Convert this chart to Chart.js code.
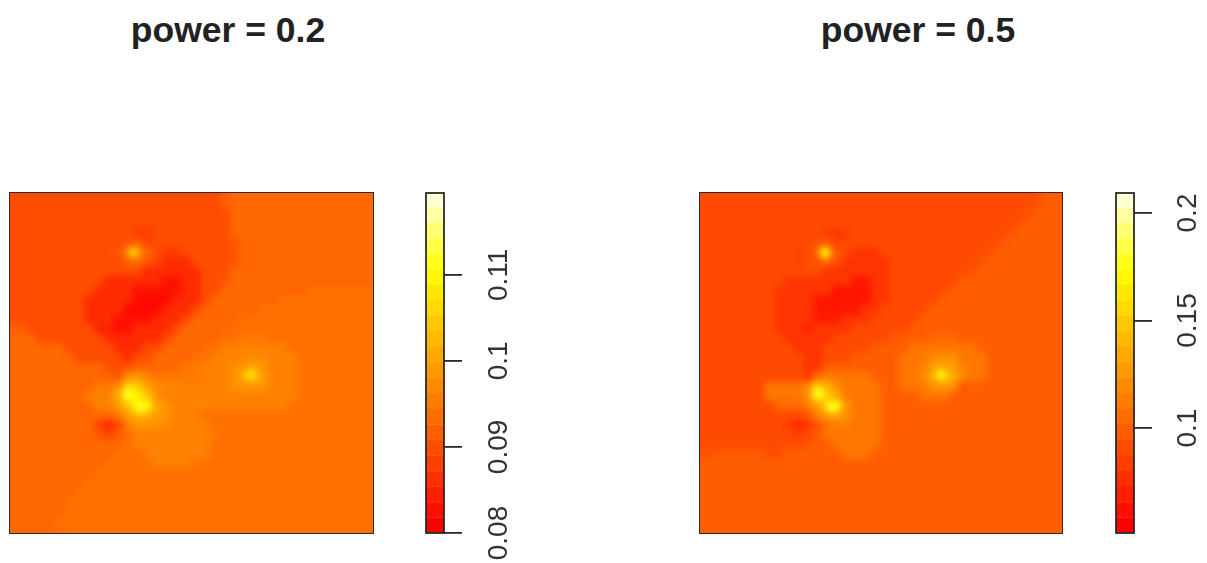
<!DOCTYPE html>
<html>
<head>
<meta charset="utf-8">
<script src="https://cdn.jsdelivr.net/npm/chart.js@4"></script>
<style>
html, body { margin: 0; background: #fff; }
body { position: relative; width: 1207px; height: 563px; overflow: hidden; font-family: "Liberation Sans", sans-serif; }
.title { position: absolute; top: 9px; width: 400px; text-align: center; font-weight: bold; font-size: 35.5px; line-height: 42px; color: #222; }
.panel { position: absolute; top: 193px; height: 340px; overflow: hidden; background: rgb(255, 95, 0); outline: 1.8px solid #2a2a2a; }
.panel canvas { filter: blur(3.2px); display: block; margin: -20px 0 0 -20px; }
.bar { position: absolute; top: 0; filter: blur(0.4px); }
</style>
</head>
<body>
<div class="title" style="left:28px">power = 0.2</div>
<div class="title" style="left:718px">power = 0.5</div>
<div class="panel" style="left:10px;width:363px"><canvas id="heatLow" width="403" height="380"></canvas></div>
<div class="panel" style="left:700px;width:362px"><canvas id="heatHigh" width="402" height="380"></canvas></div>
<canvas class="bar" id="barLow" width="110" height="563" style="left:410px"></canvas>
<canvas class="bar" id="barHigh" width="102" height="563" style="left:1105px"></canvas>
<script>
// cell values in thousandths, rows top to bottom
const lowRows = [
[89,89,89,89,89,89,89,89,89,89,89,89,89,89,89,89,89,89,89,89,89,91,92,92,92,92,92,92,92,92,92,92,92,92,92,92],
[89,89,89,89,89,89,89,89,89,89,89,89,89,89,89,89,89,89,89,89,89,89,92,92,92,92,92,92,92,92,92,92,92,92,92,92],
[89,89,89,89,89,89,89,89,89,89,89,89,89,89,89,89,89,89,89,89,89,89,92,92,92,92,92,92,92,92,92,92,92,92,92,92],
[89,89,89,89,89,89,89,89,89,89,89,89,87,87,89,89,89,89,89,89,89,89,92,92,92,92,92,92,92,92,92,92,92,92,92,92],
[89,89,89,89,89,89,89,89,89,89,89,90,91,88,89,89,89,89,89,89,89,89,90,92,92,92,92,92,92,92,92,92,92,92,92,92],
[89,89,89,89,89,89,89,89,89,89,90,93,97,92,89,87,87,89,89,89,89,89,90,92,92,92,92,92,92,92,92,92,92,92,92,92],
[89,89,89,89,89,89,89,89,89,89,89,91,92,90,88,85,85,85,89,89,89,89,90,92,92,92,92,92,92,92,92,92,92,92,92,92],
[89,89,89,89,89,89,89,89,89,89,89,89,89,85,85,85,85,85,85,89,89,89,92,92,92,92,92,92,92,92,92,92,92,92,92,92],
[89,89,89,89,89,89,89,89,89,85,85,85,85,85,85,82,82,85,85,89,89,90,92,92,92,92,92,92,92,92,92,92,92,92,92,92],
[89,89,89,89,89,89,89,89,85,85,85,85,82,82,82,82,82,85,85,89,89,92,92,92,92,92,92,92,92,92,93,93,93,93,93,93],
[89,89,89,89,89,89,89,85,85,85,85,85,81,81,81,81,85,85,85,89,92,92,92,92,92,92,92,93,93,93,93,93,93,93,93,93],
[89,89,89,89,89,89,89,85,85,85,85,81,81,81,81,85,85,85,89,92,92,92,92,92,92,93,93,93,93,93,93,93,93,93,93,93],
[89,89,89,89,89,89,89,85,85,85,82,82,82,82,85,85,85,89,92,92,92,92,92,93,93,93,93,93,93,93,93,93,93,93,93,93],
[91,89,89,89,89,89,89,89,84,84,82,82,85,85,85,85,89,92,92,92,92,92,93,93,93,93,93,93,93,93,93,93,93,93,93,93],
[92,92,89,89,89,89,89,89,89,85,85,85,85,85,85,89,92,92,92,92,92,93,93,94,94,94,93,93,93,93,93,93,93,93,93,93],
[92,92,92,92,92,89,89,89,89,89,85,85,85,89,89,92,92,92,92,93,93,95,95,95,95,95,95,95,93,93,93,93,93,93,93,93],
[92,92,92,92,92,92,89,89,89,89,89,85,89,89,92,92,92,92,93,93,95,95,95,96,96,96,95,95,95,93,93,93,93,93,93,93],
[92,92,92,92,92,92,92,92,92,89,89,90,92,92,92,92,92,94,94,95,95,95,97,97,99,97,95,95,95,93,93,93,93,93,93,93],
[92,92,92,92,92,92,92,92,92,92,90,97,98,95,94,94,94,94,94,95,95,95,97,100,103,98,95,95,95,93,93,93,93,93,93,93],
[92,92,92,92,92,92,92,92,94,94,97,104,104,99,96,95,95,95,95,95,95,95,97,97,97,97,95,95,95,93,93,93,93,93,93,93],
[92,92,92,92,92,92,92,95,95,95,100,110,108,103,97,95,95,95,95,95,95,95,95,95,95,95,95,95,95,93,93,93,93,93,93,93],
[92,92,92,92,92,92,92,92,95,95,98,103,110,108,99,97,95,95,95,95,95,95,95,95,95,95,95,95,93,93,93,93,93,93,93,93],
[92,92,92,92,92,92,92,92,92,92,94,98,101,100,98,97,95,95,95,93,93,93,93,93,93,93,93,93,93,93,93,93,93,93,93,93],
[92,92,92,92,92,92,92,92,88,85,88,95,97,97,97,96,95,95,95,95,93,93,93,93,93,93,93,93,93,93,93,93,93,93,93,93],
[92,92,92,92,92,92,92,92,90,88,91,93,95,95,95,95,95,95,95,95,94,93,93,93,93,93,93,93,93,93,93,93,93,93,93,93],
[92,92,92,92,92,92,92,92,92,92,92,93,95,95,95,95,95,95,95,95,93,93,93,93,93,93,93,93,93,93,93,93,93,93,93,93],
[92,92,92,92,92,92,92,92,92,92,93,93,93,95,95,95,95,95,95,95,93,93,93,93,93,93,93,93,93,93,93,93,93,93,93,93],
[92,92,92,92,92,92,92,92,92,93,93,93,93,93,95,95,95,95,94,93,93,93,93,93,93,93,93,93,93,93,93,93,93,93,93,93],
[92,92,92,92,92,92,92,92,93,93,93,93,93,93,93,93,93,93,93,93,93,93,93,93,93,93,93,93,93,93,93,93,93,93,93,93],
[92,92,92,92,92,92,92,93,93,93,93,93,93,93,93,93,93,93,93,93,93,93,93,93,93,93,93,93,93,93,93,93,93,93,93,93],
[92,92,92,92,92,92,93,93,93,93,93,93,93,93,93,93,93,93,93,93,93,93,93,93,93,93,93,93,93,93,93,93,93,93,93,93],
[92,92,92,92,92,93,93,93,93,93,93,93,93,93,93,93,93,93,93,93,93,93,93,93,93,93,93,93,93,93,93,93,93,93,93,93],
[92,92,92,92,92,93,93,93,93,93,93,93,93,93,93,93,93,93,93,93,93,93,93,93,93,93,93,93,93,93,93,93,93,93,93,93],
[92,92,92,92,93,93,93,93,93,93,93,93,93,93,93,93,93,93,93,93,93,93,93,93,93,93,93,93,93,93,93,93,93,93,93,93]
];
const highRows = [
[86,86,86,86,86,86,86,86,86,86,86,86,86,86,86,86,86,86,86,86,86,86,86,86,86,86,86,86,86,86,86,86,86,86,90,95],
[86,86,86,86,86,86,86,86,86,86,86,86,86,86,86,86,86,86,86,86,86,86,86,86,86,86,86,86,86,86,86,86,86,90,95,95],
[86,86,86,86,86,86,86,86,86,86,86,86,86,86,86,86,86,86,86,86,86,86,86,86,86,86,86,86,86,86,86,86,90,95,95,95],
[86,86,86,86,86,86,86,86,86,86,86,86,80,76,80,86,86,86,86,86,86,86,86,86,86,86,86,86,86,86,86,90,95,95,95,95],
[86,86,86,86,86,86,86,86,86,86,86,88,92,82,84,86,86,86,86,86,86,86,86,86,86,86,86,86,86,86,90,95,95,95,95,95],
[86,86,86,86,86,86,86,86,86,80,86,95,115,92,86,76,76,76,86,86,86,86,86,86,86,86,86,86,86,90,95,95,95,95,95,95],
[86,86,86,86,86,86,86,86,86,82,86,90,98,88,76,76,76,76,76,86,86,86,86,86,86,86,86,86,90,95,95,95,95,95,95,95],
[86,86,86,86,86,86,86,86,86,86,86,86,76,76,76,76,76,76,76,86,86,86,86,86,86,86,86,90,95,95,95,95,95,95,95,95],
[86,86,86,86,86,86,86,86,76,76,76,76,76,76,76,62,62,76,76,86,86,86,86,86,86,86,95,95,95,95,95,95,95,95,95,95],
[86,86,86,86,86,86,86,76,76,76,76,76,76,60,60,60,60,76,76,86,86,86,86,86,86,95,95,95,95,95,95,95,95,95,95,95],
[86,86,86,86,86,86,86,76,76,76,76,62,62,62,62,62,62,76,76,86,86,86,86,86,95,95,95,95,95,95,95,95,95,95,95,95],
[86,86,86,86,86,86,86,76,76,76,76,62,62,62,62,62,76,76,86,86,86,86,86,95,95,95,95,95,95,95,95,95,95,95,95,95],
[86,86,86,86,86,86,86,76,76,76,76,64,64,64,76,76,76,86,86,86,86,86,95,95,95,95,95,95,95,95,95,95,95,95,95,95],
[86,86,86,86,86,86,86,76,76,76,68,76,76,76,76,86,86,86,86,86,86,95,95,95,95,95,95,95,95,95,95,95,95,95,95,95],
[86,86,86,86,86,86,86,86,76,76,76,76,76,86,86,86,86,86,86,95,95,95,95,100,100,100,95,95,95,95,95,95,95,95,95,95],
[86,86,86,86,86,86,86,86,86,76,76,76,86,86,86,86,86,95,95,95,95,106,106,106,106,106,106,106,95,95,95,95,95,95,95,95],
[86,86,86,86,86,86,86,86,86,86,76,76,86,86,86,95,95,95,95,95,106,106,106,118,118,118,106,106,106,95,95,95,95,95,95,95],
[86,86,86,86,86,86,86,86,86,86,76,76,95,95,95,95,95,95,95,95,106,106,112,125,125,125,112,106,106,95,95,95,95,95,95,95],
[86,86,86,86,86,86,86,86,86,86,78,105,110,106,106,106,106,95,95,95,106,106,118,130,150,130,115,106,106,95,95,95,95,95,95,95],
[86,86,86,86,86,86,106,106,106,106,118,145,135,118,106,106,106,106,95,95,106,106,106,120,120,120,90,95,95,95,95,95,95,95,95,95],
[86,86,86,86,86,86,106,106,106,106,118,160,145,130,108,106,106,106,95,95,95,95,106,106,106,95,95,95,95,95,95,95,95,95,95,95],
[86,86,86,86,86,86,86,100,100,100,110,125,150,165,120,106,106,106,95,95,95,95,95,95,95,95,95,95,95,95,95,95,95,95,95,95],
[86,86,86,86,86,86,86,86,86,86,90,112,120,125,118,106,106,106,95,95,95,95,95,95,95,95,95,95,95,95,95,95,95,95,95,95],
[86,86,86,86,86,86,86,86,80,70,78,90,106,110,110,106,106,106,95,95,95,95,95,95,95,95,95,95,95,95,95,95,95,95,95,95],
[86,86,86,86,86,86,86,86,86,80,86,92,106,106,106,106,106,106,95,95,95,95,95,95,95,95,95,95,95,95,95,95,95,95,95,95],
[86,86,86,86,86,86,86,86,86,86,90,95,95,106,106,106,106,106,95,95,95,95,95,95,95,95,95,95,95,95,95,95,95,95,95,95],
[90,93,93,93,93,93,88,88,95,95,95,95,95,95,106,106,106,95,95,95,95,95,95,95,95,95,95,95,95,95,95,95,95,95,95,95],
[95,95,95,95,95,95,95,95,95,95,95,95,95,95,95,95,95,95,95,95,95,95,95,95,95,95,95,95,95,95,95,95,95,95,95,95],
[95,95,95,95,95,95,95,95,95,95,95,95,95,95,95,95,95,95,95,95,95,95,95,95,95,95,95,95,95,95,95,95,95,95,95,95],
[95,95,95,95,95,95,95,95,95,95,95,95,95,95,95,95,95,95,95,95,95,95,95,95,95,95,95,95,95,95,95,95,95,95,95,95],
[95,95,95,95,95,95,95,95,95,95,95,95,95,95,95,95,95,95,95,95,95,95,95,95,95,95,95,95,95,95,95,95,95,95,95,95],
[95,95,95,95,95,95,95,95,95,95,95,95,95,95,95,95,95,95,95,95,95,95,95,95,95,95,95,95,95,95,95,95,95,95,95,95],
[95,95,95,95,95,95,95,95,95,95,95,95,95,95,95,95,95,95,95,95,95,95,95,95,95,95,95,95,95,95,95,95,95,95,95,95],
[95,95,95,95,95,95,95,95,95,95,95,95,95,95,95,95,95,95,95,95,95,95,95,95,95,95,95,95,95,95,95,95,95,95,95,95]
];

// sharp peaks smaller than a cell: column, row, value
const lowHalo = [[12.0, 5.5, 99], [24.1, 18.2, 103], [11.5, 20.2, 109], [12.9, 21.6, 109]];
const lowCore = [[12.0, 5.5, 106], [24.1, 18.2, 108], [11.5, 20.2, 111], [12.9, 21.6, 111]];
const highHalo = [[12.2, 5.5, 140], [24.2, 18.2, 150], [11.5, 20.2, 165], [13.0, 21.6, 165]];
const highCore = [[12.2, 5.5, 172], [24.2, 18.2, 175], [11.5, 20.2, 176], [13.0, 21.6, 176]];

// colour key bands and ticks
const lowRange = [0.08, 0.1195];
const highRange = [0.0512, 0.2093];
const lowBands = [0.08, 0.0818, 0.0836, 0.0854, 0.0872, 0.089, 0.0908, 0.0926, 0.0944, 0.0962, 0.098, 0.0998, 0.1016, 0.1034, 0.1052, 0.107, 0.1088, 0.1106, 0.1124, 0.1142, 0.116, 0.1178];
const highBands = [0.0512, 0.0584, 0.0656, 0.0728, 0.08, 0.0872, 0.0944, 0.1016, 0.1088, 0.116, 0.1232, 0.1304, 0.1376, 0.1448, 0.152, 0.1592, 0.1664, 0.1736, 0.1808, 0.188, 0.1952, 0.2024];
const lowTicks = [0.08, 0.09, 0.1, 0.11];
const highTicks = [0.1, 0.15, 0.2];

// R heat.colors: red to yellow over three quarters, then up to white
function heat(v, range) {
    const t = Math.min(1, Math.max(0, (v - range[0]) / (range[1] - range[0])));
    if (t < 0.75) return `rgb(255, ${Math.round(255 * t / 0.75)}, 0)`;
    return `rgb(255, 255, ${Math.round(255 * (t - 0.75) / 0.25)})`;
}

function toPoints(list) {
    return list.map(p => ({x: p[0], y: p[1], v: p[2] / 1000}));
}

function heatChart(id, rows, halo, core, range) {
    // edge cells repeat past the frame so the blur does not fade at the border
    const cells = [];
    for (let r = -2; r < 36; r++) {
        const row = rows[Math.min(33, Math.max(0, r))];
        for (let c = -2; c < 38; c++) {
            cells.push({x: c + 0.5, y: r + 0.5, v: row[Math.min(35, Math.max(0, c))] / 1000});
        }
    }
    const color = ctx => heat(ctx.raw.v, range);
    return new Chart(document.getElementById(id), {
        type: 'scatter',
        data: {
            datasets: [
                {data: cells, pointStyle: 'rect', pointRadius: 7.6, pointBorderWidth: 0, pointBackgroundColor: color, clip: 0, order: 3},
                {data: toPoints(halo), pointRadius: 6.5, pointBorderWidth: 0, pointBackgroundColor: color, order: 2},
                {data: toPoints(core), pointRadius: 3.5, pointBorderWidth: 0, pointBackgroundColor: color, order: 1},
            ],
        },
        options: {
            responsive: false,
            animation: false,
            plugins: {legend: false, tooltip: {enabled: false}},
            events: [],
            scales: {
                x: {display: false, min: -2, max: 38},
                y: {display: false, min: -2, max: 36, reverse: true},
            },
        },
    });
}

const frame = {
    id: 'bar_frame',
    afterDraw: (chart) => {
        const {top, left, width, height} = chart.chartArea;
        chart.ctx.strokeStyle = '#2a2a2a';
        chart.ctx.lineWidth = 1.8;
        chart.ctx.strokeRect(left, top, width, height);
    }
};

function keyChart(id, bands, ticks, range, padLeft, axisWidth, pad) {
    const datasets = bands.map((lo, i) => ({
        data: [[lo, i + 1 < bands.length ? bands[i + 1] : range[1]]],
        backgroundColor: heat(lo, range),
        borderColor: heat(lo, range),
        borderWidth: 0.5,
        borderSkipped: false,
    }));
    return new Chart(document.getElementById(id), {
        type: 'bar',
        data: {labels: [''], datasets},
        options: {
            responsive: false,
            animation: false,
            events: [],
            layout: {padding: {top: 193, bottom: 30, left: padLeft}},
            plugins: {legend: false, tooltip: {enabled: false}},
            datasets: {bar: {barPercentage: 1, categoryPercentage: 1}},
            scales: {
                x: {display: false, stacked: true},
                y: {
                    position: 'right',
                    min: range[0],
                    max: range[1],
                    afterFit: (s) => { s.width = axisWidth; },
                    afterBuildTicks: (s) => { s.ticks = ticks.map(v => ({value: v})); },
                    border: {display: false},
                    grid: {drawOnChartArea: false, tickLength: 18, color: '#2a2a2a', lineWidth: 1.8},
                    ticks: {
                        callback: v => String(v),
                        minRotation: 90,
                        maxRotation: 90,
                        crossAlign: 'center',
                        padding: pad,
                        color: '#333',
                        font: {family: 'Liberation Sans', size: 28},
                    },
                },
            },
        },
        plugins: [frame],
    });
}

heatChart('heatLow', lowRows, lowHalo, lowCore, lowRange);
heatChart('heatHigh', highRows, highHalo, highCore, highRange);
keyChart('barLow', lowBands, lowTicks, lowRange, 16, 76, 10);
keyChart('barHigh', highBands, highTicks, highRange, 11, 73, 9);
</script>
</body>
</html>
